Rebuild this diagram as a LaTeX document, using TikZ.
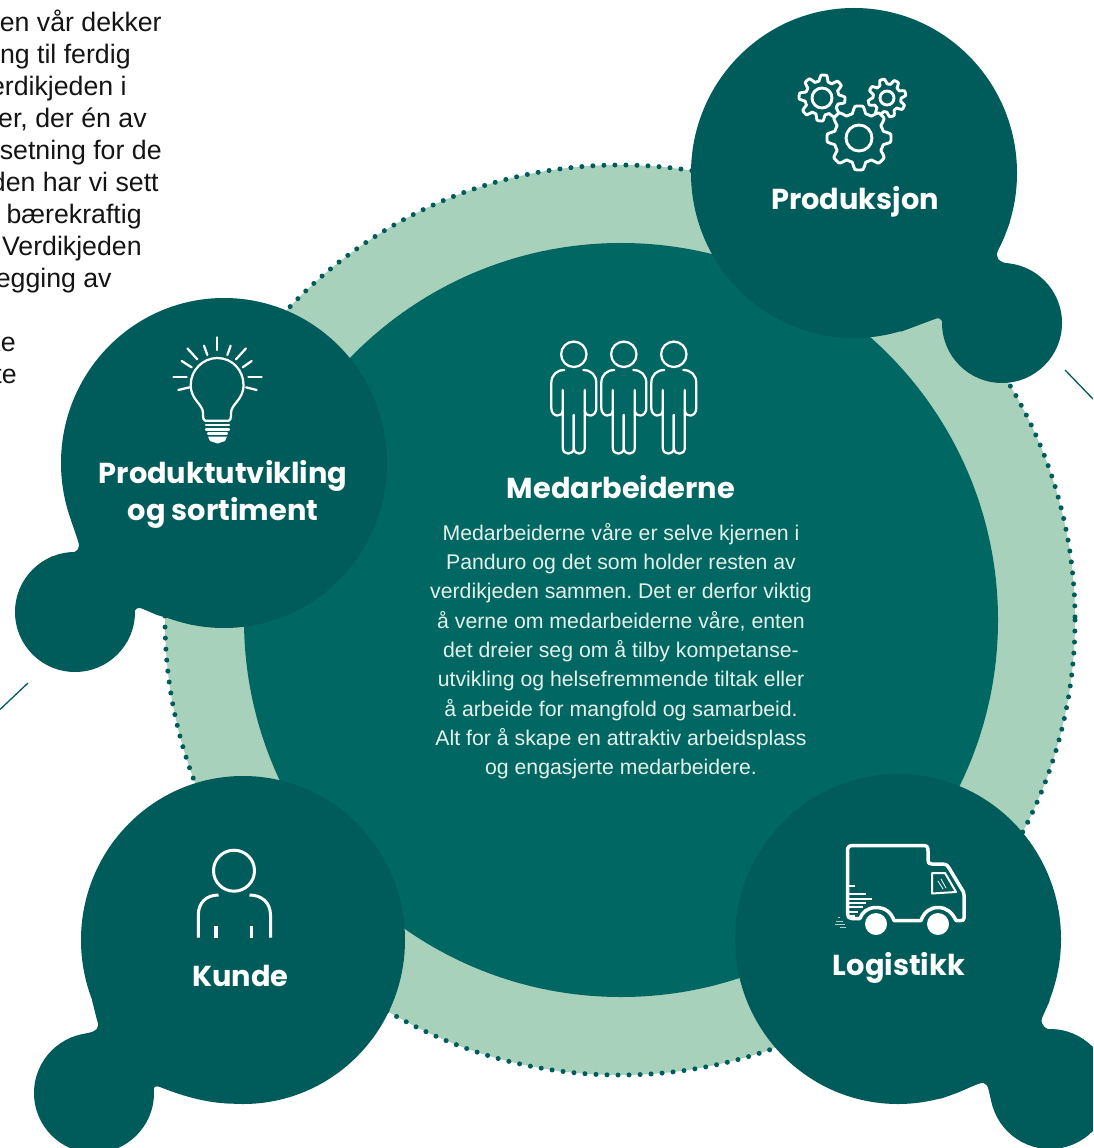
\documentclass[tikz,border=0pt]{standalone}
\usepackage{fontspec}
\setmainfont{Liberation Sans}
\newfontfamily\headfont{Poppins}
\definecolor{ringc}{HTML}{A8D1BB}
\definecolor{corec}{HTML}{006763}
\definecolor{blobc}{HTML}{005C5A}
\definecolor{bodyc}{HTML}{E4F1EA}
\tikzset{
  px/.style={x=0.02cm,y=-0.02cm},
  blobfill/.style={fill=blobc,draw=none},
  icon/.style={draw=white,line width=0.06cm,line cap=round,line join=round},
  thinicon/.style={draw=white,line width=0.045cm,line cap=round,line join=round},
  headtxt/.style={font=\headfont\bfseries\fontsize{16.4}{16.4}\selectfont,text=white,inner sep=0pt,anchor=base},
  bodytxt/.style={font=\frenchspacing\fontsize{12.1}{12}\selectfont,text=bodyc,inner sep=0pt,anchor=base},
  lefttxt/.style={font=\fontsize{15.2}{15}\selectfont,text=black!92,inner sep=0pt,anchor=base east},
  guide/.style={draw=blobc,line width=0.026cm},
}
\begin{document}
\begin{tikzpicture}[px]
\useasboundingbox (0,0) rectangle (1093,1148);
\clip (0,0) rectangle (1093,1148);
\fill[white] (0,0) rectangle (1093,1148);
% left text
\node[lefttxt] (t1) at (162,31.5) {en vår dekker};
\node[lefttxt] (t2) at (131,63.5) {ng til ferdig};
\node[lefttxt] (t3) at (127,95.5) {erdikjeden i};
\node[lefttxt] (t4) at (147,127.5) {er, der én av};
\node[lefttxt] (t5) at (162,159.5) {setning for de};
\node[lefttxt] (t6) at (159,191.5) {den har vi sett};
\node[lefttxt] (t7) at (142,223.5) {bærekraftig};
\node[lefttxt] (t8) at (142,255.5) {Verdikjeden};
\node[lefttxt] (t9) at (112,287.5) {egging av};
\node[lefttxt] (t10) at (16,351.5) {ke};
\node[lefttxt] (t11) at (17,383.5) {te};
% ring
\fill[ringc] (620,620) circle (455);
\draw[blobc,line width=0.1cm,line cap=round,dash pattern=on 0pt off 0.2206cm] (620,620) circle (455);
\fill[corec] (621,620) circle (377);
% guide lines
\coordinate (ga) at (1065,370);
\coordinate (gb) at (1093,399);
\coordinate (gc) at (28,683);
\coordinate (gd) at (0,709.5);
\draw[guide] (ga) -- (gb);
\draw[guide] (gc) -- (gd);
% Produksjon blob
\fill[blobfill] (854,173) ellipse [x radius=163,y radius=165];
\fill[blobfill] (1002,323) circle (60);
\fill[blobfill] (1010,222) -- (998,250) .. controls (995,258) and (998,262) .. (1010,264) -- (1025,268) -- (947,345) -- (945,333) .. controls (943,322) and (942,316) .. (935,319) -- (900,332) -- cycle;
% Produktutvikling blob
\fill[blobfill] (224,463) ellipse [x radius=163,y radius=165];
\fill[blobfill] (75,612) circle (60);
\fill[blobfill] (71,520) -- (78,541) .. controls (81,549) and (77,552) .. (68,554) -- (50,557) -- (127,642) -- (131,627) .. controls (133,612) and (135,605) .. (143,609) -- (157,615) -- (193,625) -- cycle;
% Kunde blob
\fill[blobfill] (243,940) ellipse [x radius=162,y radius=164];
\fill[blobfill] (94,1093) circle (60);
\fill[blobfill] (92,1000) -- (97,1020) .. controls (100,1028) and (97,1031) .. (88,1033) -- (70,1038) -- (146,1122) -- (149,1107) .. controls (151,1092) and (152,1084) .. (160,1087) .. controls (180,1095) and (205,1103) .. (230,1103.5) -- cycle;
% Logistikk blob
\fill[blobfill] (898,939) ellipse [x radius=163,y radius=165];
\fill[blobfill] (1050,1089) circle (60);
\fill[blobfill] (1050,1000) -- (1042,1018) .. controls (1040,1025) and (1045,1030) .. (1057,1031) -- (1075,1035) -- (1000,1120) -- (993,1106) -- (990,1096) .. controls (988,1088) and (988,1080) .. (978,1084) -- (973,1086) -- (940,1099) -- cycle;
% People icon
\foreach \cx in {573.8,623.8,673.8}{
  \begin{scope}[xshift=\cx*0.02cm]
    \draw[thinicon] (0,354.3) circle (12.7);
    \foreach \s in {-1,1}{
      \draw[thinicon] (\s*9.5,370) .. controls (\s*17,370) and (\s*22.5,375) .. (\s*22.5,383) -- (\s*22.5,408) .. controls (\s*22.5,417.5) and (\s*11,418) .. (\s*11,410);
      \draw[thinicon] (\s*11,390) -- (\s*11,448) .. controls (\s*11,455.5) and (0,455.5) .. (0,448) -- (0,415);
    }
  \end{scope}
}
% Medarbeiderne text
\node[headtxt] (hm) at (621,498) {Medarbeiderne};
\node[bodytxt] (b1) at (621,540) {Medarbeiderne våre er selve kjernen i};
\node[bodytxt] (b2) at (621,569) {Panduro og det som holder resten av};
\node[bodytxt] (b3) at (621,598) {verdikjeden sammen. Det er derfor viktig};
\node[bodytxt] (b4) at (621,628) {å verne om medarbeiderne våre, enten};
\node[bodytxt] (b5) at (621,657) {det dreier seg om å tilby kompetanse-};
\node[bodytxt] (b6) at (621,686) {utvikling og helsefremmende tiltak eller};
\node[bodytxt] (b7) at (621,716) {å arbeide for mangfold og samarbeid.};
\node[bodytxt] (b8) at (621,745) {Alt for å skape en attraktiv arbeidsplass};
\node[bodytxt] (b9) at (621,774) {og engasjerte medarbeidere.};
% Gears
\foreach \gx/\gy/\gr/\ga/\gh/\gp in {822/98/20/3/10/50, 887/98/16.5/2.5/7/210, 859/138/28.5/3.5/13/90}{
  \draw[icon,fill=blobc,line width=0.058cm] plot[domain=0:360,samples=145,smooth] ({\gx+(\gr+\ga*max(-1,min(1,1.8*sin(8*\x+\gp))))*cos(\x)},{\gy+(\gr+\ga*max(-1,min(1,1.8*sin(8*\x+\gp))))*sin(\x)}) -- cycle;
  \draw[icon,line width=0.058cm] (\gx,\gy) circle (\gh);
}
\node[headtxt] (hp) at (855,209.5) {Produksjon};
% Bulb
\foreach \a/\b/\c/\d in {172/22/172/60,132/47/142/75,82/55/112/88,65/93/95/112,40/142/80/142,55/180/88/172,212/47/202/75,258/55/228/88,275/93/248/112,305/142/265/142,290/180/258/172}{
  \draw[thinicon] ({160+\a/3},{330+\b/3}) -- ({160+\c/3},{330+\d/3});
}
\draw[thinicon] (205,420.7) .. controls (203.5,420.7) and (203,418) .. (203,413) .. controls (203,404) and (190.7,400) .. (190.7,385) .. controls (190.7,370) and (203,358) .. (217.3,358) .. controls (232,358) and (243.5,370) .. (243.5,385) .. controls (243.5,400) and (231,404) .. (231,413) .. controls (231,418) and (230.5,420.7) .. (229,420.7) -- cycle;
\foreach \ly/\la/\lb in {425/206/229,429.5/206/229,433.5/208/227}{
  \draw[thinicon] (\la,\ly) -- (\lb,\ly);
}
\fill[white] (208,436.5) -- (227,436.5) -- (225,441) -- (217.5,443.5) -- (210,441) -- cycle;
\node[headtxt] (hs1) at (223,483) {Produktutvikling};
\node[headtxt] (hs2) at (223,520) {og sortiment};
% Kunde icon
\draw[icon] (234,870.7) circle (20.5);
\draw[icon,line cap=butt] (218.5,895) .. controls (206,895) and (198.3,903) .. (198.3,915) -- (198.3,937.7);
\draw[icon,line cap=butt] (249.5,895) .. controls (262,895) and (270.5,903) .. (270.5,915) -- (270.5,937.7);
\draw[icon,line cap=butt,line width=0.068cm] (216,926) -- (216,937.7);
\draw[icon,line cap=butt,line width=0.068cm] (251.7,926) -- (251.7,937.7);
\node[headtxt] (hk) at (240.5,986) {Kunde};
% Truck icon
\draw[icon,line width=0.07cm] (860,918.5) -- (852,918.5) .. controls (849,918.5) and (847.5,917) .. (847.5,914) -- (847.5,851) .. controls (847.5,847) and (849,845.5) .. (853,845.5) -- (923,845.5) .. controls (927,845.5) and (928,847) .. (928,851) -- (928,860) .. controls (928,863) and (929,864) .. (932,864) -- (943,864) .. controls (946,864) and (947,865) .. (949,868) -- (961,888) .. controls (963,891) and (964,892) .. (964,895) -- (964,918) .. controls (964,920) and (963,920.5) .. (961,920.5) -- (956,920.5) .. controls (952,912) and (946,907.5) .. (938,907.5) .. controls (930,907.5) and (924,912) .. (921,920.5) -- (894,920.5) .. controls (891,912) and (885,907.5) .. (876,907.5) .. controls (868,907.5) and (862,912) .. (860,918.5);
\fill[white] (876,924) circle (11);
\fill[white] (938,924) circle (11);
\draw[thinicon,line width=0.04cm] (932,873) -- (945,873) -- (956,892) -- (932,893.5) -- cycle;
\draw[thinicon,line width=0.016cm] (938,881) -- (943,889);
\draw[thinicon,line width=0.016cm] (941,879) -- (946,888);
\foreach \ly/\lx in {886/855,894/866,899/872,903/866,907/863,912/858,916/855}{
  \draw[white,line width=0.022cm] (848,\ly) -- (\lx,\ly);
}
\foreach \ay/\ax/\bx in {917/838/840,921/836/843,924/835/845,927/840/846}{
  \draw[white!70!blobc,line width=0.012cm] (\ax,\ay) -- (\bx,\ay);
}
\node[headtxt] (hl) at (899,975) {Logistikk};
\end{tikzpicture}
\end{document}
